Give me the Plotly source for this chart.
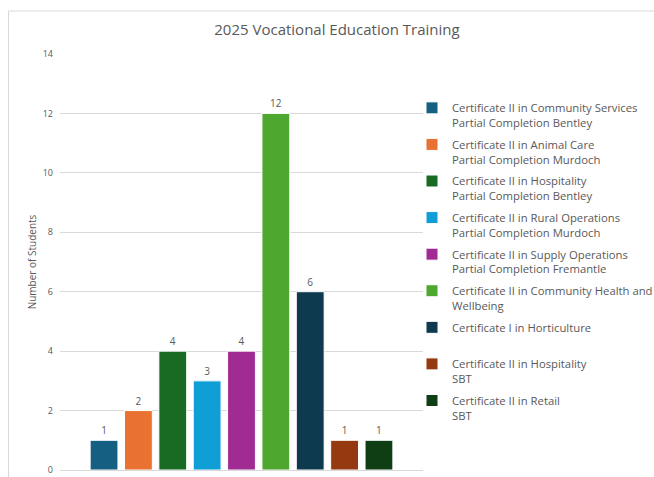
import plotly.graph_objects as go

title = "2025 Vocational Education Training"
series_names = [
    "Certificate II in Community Services<br>Partial Completion Bentley",
    "Certificate II in Animal Care<br>Partial Completion Murdoch",
    "Certificate II in Hospitality<br>Partial Completion Bentley",
    "Certificate II in Rural Operations<br>Partial Completion Murdoch",
    "Certificate II in Supply Operations<br>Partial Completion Fremantle",
    "Certificate II in Community Health and<br>Wellbeing",
    "Certificate I in Horticulture<br> ",
    "Certificate II in Hospitality<br>SBT",
    "Certificate II in Retail<br>SBT",
]
values = [1, 2, 4, 3, 4, 12, 6, 1, 1]
colors = ["#156082", "#E97132", "#196B24", "#0F9ED5", "#A02B93",
          "#4EA72E", "#0D3A4E", "#953911", "#0F3D14"]
category = ["2025"]
y_ticks = [0, 2, 4, 6, 8, 10, 12, 14]

FONT = "Open Sans, Roboto, Arial, sans-serif"
TXT = "#595959"

fig = go.Figure()
for i, (name, v, c) in enumerate(zip(series_names, values, colors)):
    fig.add_trace(go.Bar(
        x=category, y=[v], name=name,
        marker=dict(color=c, line=dict(color="white", width=1)),
        text=[str(v)], textposition="outside",
        textfont=dict(size=10, color=TXT, family=FONT),
        cliponaxis=False, legendgroup=f"g{i}",
    ))

W, H = 654, 477
L, R, T, B = 60, 231, 54, 7
pw, ph = W - L - R, H - T - B

def px_to_paper_x(p):
    return (p - L) / pw

def px_to_paper_y(p):
    return (H - B - p) / ph

fig.update_layout(
    width=W, height=H,
    margin=dict(l=L, r=R, t=T, b=B, autoexpand=False),
    paper_bgcolor="white", plot_bgcolor="white",
    font=dict(family=FONT, color=TXT),
    title=dict(text=title, x=337 / W, xanchor="center",
               y=1 - 30 / H, yanchor="middle",
               font=dict(size=15, color=TXT, family=FONT)),
    barmode="group", bargap=0.148, bargroupgap=0.19,
    showlegend=True,
    legend=dict(x=px_to_paper_x(412), xanchor="left",
                y=px_to_paper_y(94), yanchor="top",
                font=dict(size=11.3, color=TXT, family=FONT),
                valign="top", tracegroupgap=4.2,
                bgcolor="rgba(0,0,0,0)"),
    xaxis=dict(showticklabels=False, showgrid=False, zeroline=False,
               showline=False, ticks=""),
    yaxis=dict(range=[0, 14], tickvals=y_ticks, showgrid=True,
               gridcolor="#D9D9D9", gridwidth=1, zeroline=True,
               zerolinecolor="#D9D9D9", zerolinewidth=1,
               tickfont=dict(size=9, color=TXT, family=FONT),
               ticklabelstandoff=6,
               title=dict(text="Number of Students", standoff=4,
                          font=dict(size=10, color=TXT, family=FONT))),
    shapes=[dict(type="rect", xref="paper", yref="paper",
                 x0=px_to_paper_x(8.5), x1=px_to_paper_x(720),
                 y0=px_to_paper_y(520), y1=px_to_paper_y(11),
                 line=dict(color="#D9D9D9", width=1), fillcolor="rgba(0,0,0,0)",
                 layer="below")],
)

fig.write_html(
    "out.html",
    config={"displayModeBar": False},
    post_script="document.body.style.margin='0';"
                "document.documentElement.style.overflow='hidden';",
)
